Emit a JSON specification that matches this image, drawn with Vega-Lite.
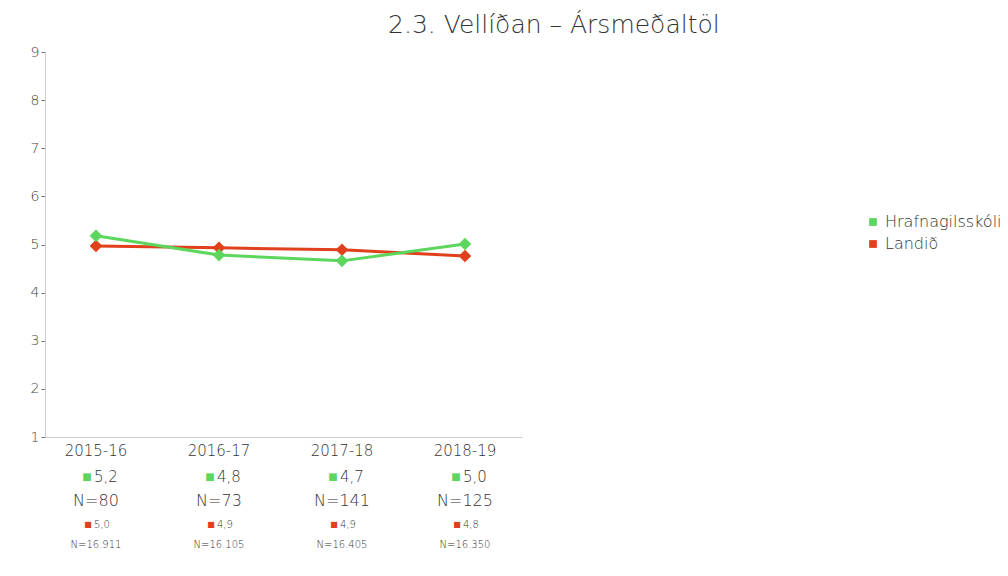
{
  "$schema": "https://vega.github.io/schema/vega-lite/v6.json",
  "background": "white",
  "padding": {"left": 30, "top": 13, "right": 5, "bottom": 5},
  "config": {
    "locale": {"number": {"decimal": ",", "thousands": ".", "grouping": [3], "currency": ["", ""]}},
    "font": "DejaVu Sans",
    "view": {"stroke": null}
  },
  "title": {"text": "2.3. Vellíðan – Ársmeðaltöl", "fontSize": 25, "fontWeight": 200, "color": "#333", "font": "DejaVu Sans", "anchor": "start", "dx": 358, "offset": 7},
  "data": {"values": [
    {"year": "2015-16", "school": "Landið", "mean": 4.97, "n": 16911},
    {"year": "2016-17", "school": "Landið", "mean": 4.93, "n": 16105},
    {"year": "2017-18", "school": "Landið", "mean": 4.89, "n": 16405},
    {"year": "2018-19", "school": "Landið", "mean": 4.76, "n": 16350},
    {"year": "2015-16", "school": "Hrafnagilsskóli", "mean": 5.18, "n": 80},
    {"year": "2016-17", "school": "Hrafnagilsskóli", "mean": 4.78, "n": 73},
    {"year": "2017-18", "school": "Hrafnagilsskóli", "mean": 4.66, "n": 141},
    {"year": "2018-19", "school": "Hrafnagilsskóli", "mean": 5.01, "n": 125}
  ]},
  "spacing": 0,
  "vconcat": [
    {
      "width": 477,
      "height": 385,
      "encoding": {
        "x": {"field": "year", "type": "ordinal", "scale": {"type": "point", "padding": 0.439, "align": 0.472},
              "axis": {"labels": false, "ticks": false, "title": null, "domainColor": "#ccc", "domainWidth": 1}},
        "y": {"field": "mean", "type": "quantitative", "scale": {"domain": [1, 9], "nice": false},
              "axis": {"values": [1, 2, 3, 4, 5, 6, 7, 8, 9], "title": null, "grid": false, "domainColor": "#ccc", "tickColor": "#777", "tickSize": 4, "labelColor": "#444", "labelFontSize": 14, "labelFontWeight": 200, "labelPadding": 2}},
        "color": {"field": "school", "type": "nominal",
                  "scale": {"domain": ["Hrafnagilsskóli", "Landið"], "range": ["#5cd65c", "#e0401c"]},
                  "legend": {"title": null, "orient": "none", "legendX": 820, "legendY": 162, "symbolType": "square", "symbolSize": 60, "labelFontSize": 16, "labelFontWeight": 200, "labelColor": "#333", "rowPadding": 6, "symbolStrokeWidth": 0}}
      },
      "layer": [
        {"transform": [{"filter": "datum.school === 'Landið'"}], "mark": {"type": "line", "strokeWidth": 3}},
        {"transform": [{"filter": "datum.school === 'Landið'"}], "mark": {"type": "point", "shape": "diamond", "filled": true, "size": 160, "opacity": 1}},
        {"transform": [{"filter": "datum.school === 'Hrafnagilsskóli'"}], "mark": {"type": "line", "strokeWidth": 3}},
        {"transform": [{"filter": "datum.school === 'Hrafnagilsskóli'"}], "mark": {"type": "point", "shape": "diamond", "filled": true, "size": 160, "opacity": 1}}
      ]
    },
    {
      "width": 477,
      "height": 120,
      "encoding": {
        "x": {"field": "year", "type": "ordinal", "scale": {"type": "point", "padding": 0.439, "align": 0.472}, "axis": null}
      },
      "layer": [
        {"transform": [{"filter": "datum.school === 'Hrafnagilsskóli'"}],
         "mark": {"type": "text", "fontSize": 15, "fontWeight": 200, "color": "#333", "dy": -5},
         "encoding": {"y": {"datum": "year", "type": "ordinal", "scale": {"type": "point", "domain": ["year", "v1", "n1", "v2", "n2"], "padding": 0.5}, "axis": null},
                      "text": {"field": "year"}}},
        {"transform": [{"filter": "datum.school === 'Hrafnagilsskóli'"}],
         "mark": {"type": "text", "fontSize": 10, "text": "■", "dx": -9, "dy": -3},
         "encoding": {"y": {"datum": "v1", "type": "ordinal"},
                      "color": {"field": "school", "type": "nominal"}}},
        {"transform": [{"filter": "datum.school === 'Hrafnagilsskóli'"}],
         "mark": {"type": "text", "fontSize": 15, "fontWeight": 200, "color": "#333", "align": "left", "dx": -2, "dy": -3},
         "encoding": {"y": {"datum": "v1", "type": "ordinal"},
                      "text": {"field": "mean", "type": "quantitative", "format": ".1f"}}},
        {"transform": [{"filter": "datum.school === 'Hrafnagilsskóli'"}],
         "mark": {"type": "text", "fontSize": 16, "fontWeight": 200, "color": "#333", "dy": -3, "text": {"expr": "'N=' + format(datum.n, ',d')"}},
         "encoding": {"y": {"datum": "n1", "type": "ordinal"}}},
        {"transform": [{"filter": "datum.school === 'Landið'"}],
         "mark": {"type": "text", "fontSize": 8, "text": "■", "dx": -8, "dy": -3},
         "encoding": {"y": {"datum": "v2", "type": "ordinal"},
                      "color": {"field": "school", "type": "nominal"}}},
        {"transform": [{"filter": "datum.school === 'Landið'"}],
         "mark": {"type": "text", "fontSize": 10, "fontWeight": 200, "color": "#333", "align": "left", "dx": -2, "dy": -3},
         "encoding": {"y": {"datum": "v2", "type": "ordinal"},
                      "text": {"field": "mean", "type": "quantitative", "format": ".1f"}}},
        {"transform": [{"filter": "datum.school === 'Landið'"}],
         "mark": {"type": "text", "fontSize": 10, "fontWeight": 200, "color": "#333", "dy": -7, "text": {"expr": "'N=' + format(datum.n, ',d')"}},
         "encoding": {"y": {"datum": "n2", "type": "ordinal"}}}
      ]
    }
  ]
}
